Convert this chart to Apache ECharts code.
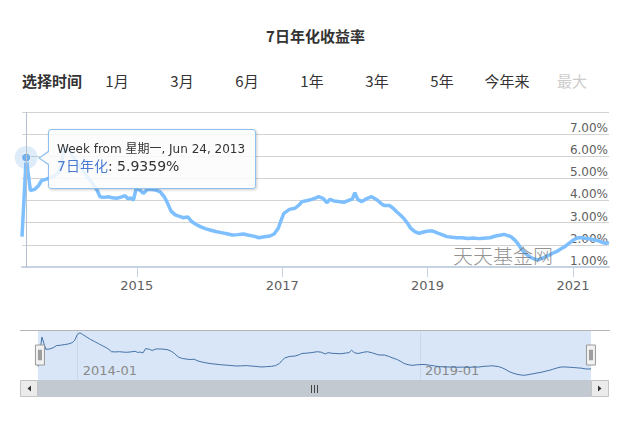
<!DOCTYPE html>
<html>
<head>
<meta charset="utf-8">
<script src="https://cdn.jsdelivr.net/npm/echarts@6/dist/echarts.min.js"></script>
<style>
html,body{margin:0;padding:0;background:#fff;}
#main{width:631px;height:436px;}
</style>
</head>
<body>
<div id="main"></div>
<script>
// ---------- data ----------
const titleText = '7日年化收益率';
const seriesName = '7日年化';
const selectLabel = '选择时间';
const rangeButtons = ['1月', '3月', '6月', '1年', '3年', '5年', '今年来', '最大'];
const watermarkText = '天天基金网';
const hoverDate = '2013-06-24';
const mainTicks = ['2015-01-01', '2017-01-01', '2019-01-01', '2021-01-01'];
const navTicks = ['2014-01-01', '2019-01-01'];
const yTicks = [1, 2, 3, 4, 5, 6, 7, 8];

const dates = [
'2013-06-03','2013-06-24','2013-07-15','2013-08-05','2013-08-26','2013-09-09','2013-09-30','2013-10-21',
'2013-11-11','2013-12-02','2013-12-16','2013-12-30','2014-01-13','2014-01-27','2014-02-17','2014-03-10',
'2014-03-31','2014-04-21','2014-05-12','2014-06-02','2014-06-16','2014-06-30','2014-07-21','2014-08-11',
'2014-09-01','2014-09-22','2014-10-13','2014-11-03','2014-11-17','2014-12-01','2014-12-15','2014-12-29',
'2015-01-19','2015-02-02','2015-02-23','2015-03-16','2015-04-06','2015-04-27','2015-05-18','2015-06-01',
'2015-06-22','2015-07-13','2015-08-03','2015-08-24','2015-09-14','2015-10-05','2015-10-26','2015-11-16',
'2015-12-14','2016-01-04','2016-02-01','2016-02-29','2016-03-28','2016-04-25','2016-05-23','2016-06-20',
'2016-07-18','2016-08-15','2016-09-05','2016-10-03','2016-10-31','2016-11-21','2016-12-12','2016-12-26',
'2017-01-09','2017-02-06','2017-03-06','2017-03-27','2017-04-10','2017-05-08','2017-05-29','2017-06-19',
'2017-07-03','2017-07-24','2017-08-14','2017-08-28','2017-09-18','2017-10-09','2017-11-06','2017-12-04',
'2017-12-18','2018-01-01','2018-01-15','2018-02-05','2018-03-05','2018-03-26','2018-04-23','2018-05-14',
'2018-05-28','2018-06-25','2018-07-16','2018-07-30','2018-08-20','2018-09-03','2018-09-24','2018-10-08',
'2018-10-29','2018-11-19','2018-12-17','2019-01-07','2019-01-28','2019-02-25','2019-03-18','2019-04-08',
'2019-05-06','2019-05-27','2019-06-24','2019-07-22','2019-08-19','2019-09-16','2019-10-07','2019-11-11',
'2019-12-09','2020-01-06','2020-01-20','2020-02-24','2020-03-16','2020-03-30','2020-04-20','2020-05-11',
'2020-06-01','2020-06-22','2020-07-06','2020-07-20','2020-08-10','2020-08-31','2020-09-21','2020-10-12',
'2020-11-02','2020-11-23','2020-12-07','2020-12-28','2021-01-18','2021-02-08','2021-03-08','2021-03-29',
'2021-04-19','2021-05-10','2021-05-31','2021-06-14','2021-07-01'
];
const rates = [
2.37,5.9359,4.45,4.50,4.68,4.90,4.95,5.02,
5.10,5.25,5.55,6.25,6.45,6.25,5.95,5.65,
5.40,5.15,4.90,4.65,4.45,4.17,4.14,4.17,
4.12,4.10,4.15,4.22,4.08,4.12,4.02,4.55,
4.45,4.32,4.50,4.50,4.47,4.40,4.18,3.95,
3.52,3.35,3.28,3.22,3.26,3.04,2.92,2.82,
2.72,2.67,2.60,2.55,2.50,2.44,2.46,2.49,
2.43,2.38,2.32,2.36,2.40,2.49,2.75,3.10,
3.42,3.60,3.65,3.80,3.95,4.00,4.05,4.12,
4.17,4.10,3.90,4.05,3.98,3.95,3.92,4.02,
4.05,4.35,4.05,3.95,4.10,4.17,4.02,3.85,
3.77,3.77,3.62,3.49,3.32,3.20,2.95,2.75,
2.60,2.52,2.59,2.62,2.62,2.52,2.45,2.37,
2.34,2.32,2.32,2.29,2.31,2.28,2.30,2.32,
2.40,2.44,2.47,2.37,2.20,2.05,1.77,1.58,
1.44,1.36,1.32,1.35,1.44,1.52,1.62,1.70,
1.82,1.93,2.03,2.18,2.30,2.33,2.29,2.26,
2.22,2.18,2.10,2.07,2.10
];

// ---------- helpers ----------
const ts = s => { const p = s.split('-').map(Number); return new Date(p[0], p[1] - 1, p[2]).getTime(); };
const seriesData = dates.map((d, i) => [ts(d), rates[i]]);
const hoverIndex = dates.indexOf(hoverDate);
const xMin = ts(dates[0]);
const xMax = ts(dates[dates.length - 1]);
const CJK = "'Noto Sans CJK SC', 'DejaVu Sans', sans-serif";
const LAT = "'DejaVu Sans', 'Noto Sans CJK SC', sans-serif";
const LINE = '#72aeea';

const chart = echarts.init(document.getElementById('main'), null, {renderer: 'svg', width: 631, height: 436});

const weekNames = ['星期日', '星期一', '星期二', '星期三', '星期四', '星期五', '星期六'];
const monthNames = ['Jan','Feb','Mar','Apr','May','Jun','Jul','Aug','Sep','Oct','Nov','Dec'];

function tipHtml() {
  const d = new Date(ts(hoverDate));
  const head = 'Week from ' + weekNames[d.getDay()] + ', ' + monthNames[d.getMonth()] + ' ' + d.getDate() + ', ' + d.getFullYear();
  const ff = 'DejaVu Sans, Noto Sans CJK SC, sans-serif';
  return '<div style="position:absolute;left:-11px;top:21px;width:0;height:0;border-top:7px solid transparent;border-bottom:7px solid transparent;border-right:10px solid #8fc0ee;"></div>' +
    '<div style="position:absolute;left:-9px;top:22px;width:0;height:0;border-top:6px solid transparent;border-bottom:6px solid transparent;border-right:9px solid #fbfbfb;"></div>' +
    '<div style="font-family:' + ff + ';font-size:12px;line-height:17px;color:#333;white-space:nowrap;">' + head + '</div>' +
    '<div style="font-family:' + ff + ';font-size:14px;line-height:17px;color:#333;white-space:nowrap;">' +
    '<span style="color:#4a7bd0">' + seriesName + '</span>: ' + rates[hoverIndex].toFixed(4) + '%</div>';
}

const graphics = [];
graphics.push({type: 'text', z: 5, style: {text: watermarkText, x: 453, y: 255, fill: 'rgba(110,110,110,0.75)', fontSize: 20, fontFamily: CJK, fontWeight: 300, verticalAlign: 'middle', align: 'left'}});
graphics.push({type: 'text', style: {text: selectLabel, x: 22, y: 80, fill: '#333', fontSize: 15, fontWeight: 'bold', fontFamily: CJK, verticalAlign: 'middle', align: 'left'}});
rangeButtons.forEach((b, i) => {
  graphics.push({type: 'text', style: {text: b, x: 117 + i * 65, y: 80, fill: i === rangeButtons.length - 1 ? '#cccccc' : '#333', fontSize: 15, fontFamily: CJK, verticalAlign: 'middle', align: 'center'}});
});
// navigator outline and scrollbar
graphics.push({type: 'line', z: 20, shape: {x1: 20, y1: 330.5, x2: 610, y2: 330.5}, style: {stroke: '#b5b5b5', lineWidth: 1}});
graphics.push({type: 'rect', z: 20, shape: {x: 38, y: 380, width: 553, height: 17}, style: {fill: '#c3c9d1'}});
graphics.push({type: 'rect', z: 20, shape: {x: 20.5, y: 380.5, width: 17, height: 16}, style: {fill: '#ebebeb', stroke: '#c4c4c4', lineWidth: 1}});
graphics.push({type: 'rect', z: 20, shape: {x: 591.5, y: 380.5, width: 17, height: 16}, style: {fill: '#ebebeb', stroke: '#c4c4c4', lineWidth: 1}});
graphics.push({type: 'polygon', z: 21, shape: {points: [[31, 385.5], [31, 391.5], [27.5, 388.5]]}, style: {fill: '#333'}});
graphics.push({type: 'polygon', z: 21, shape: {points: [[598, 385.5], [598, 391.5], [601.5, 388.5]]}, style: {fill: '#333'}});
[311.5, 314.5, 317.5].forEach(x => {
  graphics.push({type: 'line', z: 21, shape: {x1: x, y1: 385, x2: x, y2: 393}, style: {stroke: '#444', lineWidth: 1}});
});

const yearFmt = v => String(new Date(v).getFullYear());
const ymFmt = v => { const d = new Date(v); return d.getFullYear() + '-' + String(d.getMonth() + 1).padStart(2, '0'); };

const option = {
  animation: false,
  title: {text: titleText, left: 'center', top: 23, textStyle: {fontSize: 15, fontWeight: 'bold', color: '#333', fontFamily: CJK}},
  grid: [
    {left: 22, right: 22, top: 111.8, bottom: 169},
    {left: 38, right: 40, top: 330, height: 50, show: true, backgroundColor: '#d8e6f7', borderWidth: 0}
  ],
  xAxis: [
    {
      type: 'value', gridIndex: 0, min: xMin, max: xMax,
      axisLine: {show: true, onZero: false, lineStyle: {color: '#c6d3e2', width: 2}},
      axisTick: {show: true, customValues: mainTicks.map(ts), length: 10, lineStyle: {color: '#c6d3e2', width: 1}},
      axisLabel: {customValues: mainTicks.map(ts), formatter: yearFmt, margin: 12, fontSize: 13, color: '#606060', fontFamily: LAT, hideOverlap: false, showMinLabel: true, showMaxLabel: true},
      splitLine: {show: false}
    },
    {
      type: 'value', gridIndex: 1, min: xMin, max: xMax,
      axisLine: {show: false, onZero: false},
      axisTick: {show: false, customValues: navTicks.map(ts)},
      axisLabel: {customValues: navTicks.map(ts), inside: true, margin: 3, align: 'left', padding: [0, 0, 0, 5],
        formatter: ymFmt, fontSize: 13, color: '#8a8a8a', fontFamily: LAT, hideOverlap: false},
      splitLine: {show: true, lineStyle: {color: '#c9d8ec', width: 1}}
    }
  ],
  yAxis: [
    {
      type: 'value', gridIndex: 0, position: 'right', min: yTicks[0], max: yTicks[yTicks.length - 1], interval: 1,
      axisLine: {show: false}, axisTick: {show: false},
      axisLabel: {inside: true, margin: 1, verticalAlign: 'bottom', fontSize: 12, color: '#606060', fontFamily: LAT,
        formatter: v => v === yTicks[yTicks.length - 1] ? '' : v.toFixed(2) + '%'},
      splitLine: {show: true, lineStyle: {color: '#d3d3d3', width: 1}}
    },
    {type: 'value', gridIndex: 1, min: 0.75, max: 6.79, show: false}
  ],
  tooltip: {
    trigger: 'axis', triggerOn: 'none', alwaysShowContent: true, showContent: true, transitionDuration: 0,
    axisPointer: {type: 'line', lineStyle: {color: '#b4c0cc', width: 1, type: 'solid'}, label: {show: false}},
    backgroundColor: 'rgba(251,251,251,0.85)', borderColor: '#8fc0ee', borderWidth: 1, borderRadius: 3,
    padding: [11, 10, 13, 8],
    shadowBlur: 3, shadowOffsetX: 1, shadowOffsetY: 1, shadowColor: 'rgba(0,0,0,0.2)',
    position: function () {
      const p = chart.convertToPixel({gridIndex: 0}, [ts(hoverDate), rates[hoverIndex]]);
      return [p[0] + 21.5, p[1] - 29];
    },
    formatter: tipHtml
  },
  dataZoom: [{
    type: 'slider', xAxisIndex: 0, filterMode: 'none', start: 0, end: 100,
    left: 38, right: 40, top: 330, height: 50,
    showDataShadow: false, showDetail: false, brushSelect: false,
    backgroundColor: 'rgba(0,0,0,0)', fillerColor: 'rgba(0,0,0,0)', borderColor: 'rgba(0,0,0,0)',
    handleIcon: 'path://M0,0H9V20H0Z M3,5H4V15H3Z M5,5H6V15H5Z',
    handleSize: 20,
    handleStyle: {color: '#f2f2f2', borderColor: '#9a9a9a', borderWidth: 1},
    moveHandleSize: 0,
    dataBackground: {lineStyle: {opacity: 0}, areaStyle: {opacity: 0}},
    selectedDataBackground: {lineStyle: {opacity: 0}, areaStyle: {opacity: 0}},
    emphasis: {handleStyle: {color: '#f2f2f2', borderColor: '#9a9a9a'}}
  }],
  graphic: graphics,
  series: [
    {
      name: seriesName, type: 'line', xAxisIndex: 0, yAxisIndex: 0, data: seriesData,
      showSymbol: false, symbol: 'circle', symbolSize: 9,
      itemStyle: {color: LINE},
      lineStyle: {color: LINE, width: 3.5},
      emphasis: {scale: false, lineStyle: {width: 3.5}},
      z: 3,
      markPoint: {
        silent: true, symbol: 'circle', label: {show: false},
        data: [
          {coord: [ts(hoverDate), rates[hoverIndex]], symbolSize: 23, itemStyle: {color: 'rgba(124,181,236,0.25)'}},
          {coord: [ts(hoverDate), rates[hoverIndex]], symbolSize: 9, itemStyle: {color: LINE, borderColor: '#ffffff', borderWidth: 1}}
        ]
      }
    },
    {
      name: 'navigator', type: 'line', xAxisIndex: 1, yAxisIndex: 1, data: seriesData,
      showSymbol: false, silent: true, lineStyle: {color: '#4572a7', width: 1}, itemStyle: {color: '#4572a7'}, z: 3
    }
  ]
};
chart.setOption(option);
chart.dispatchAction({type: 'showTip', seriesIndex: 0, dataIndex: hoverIndex});
</script>
</body>
</html>
